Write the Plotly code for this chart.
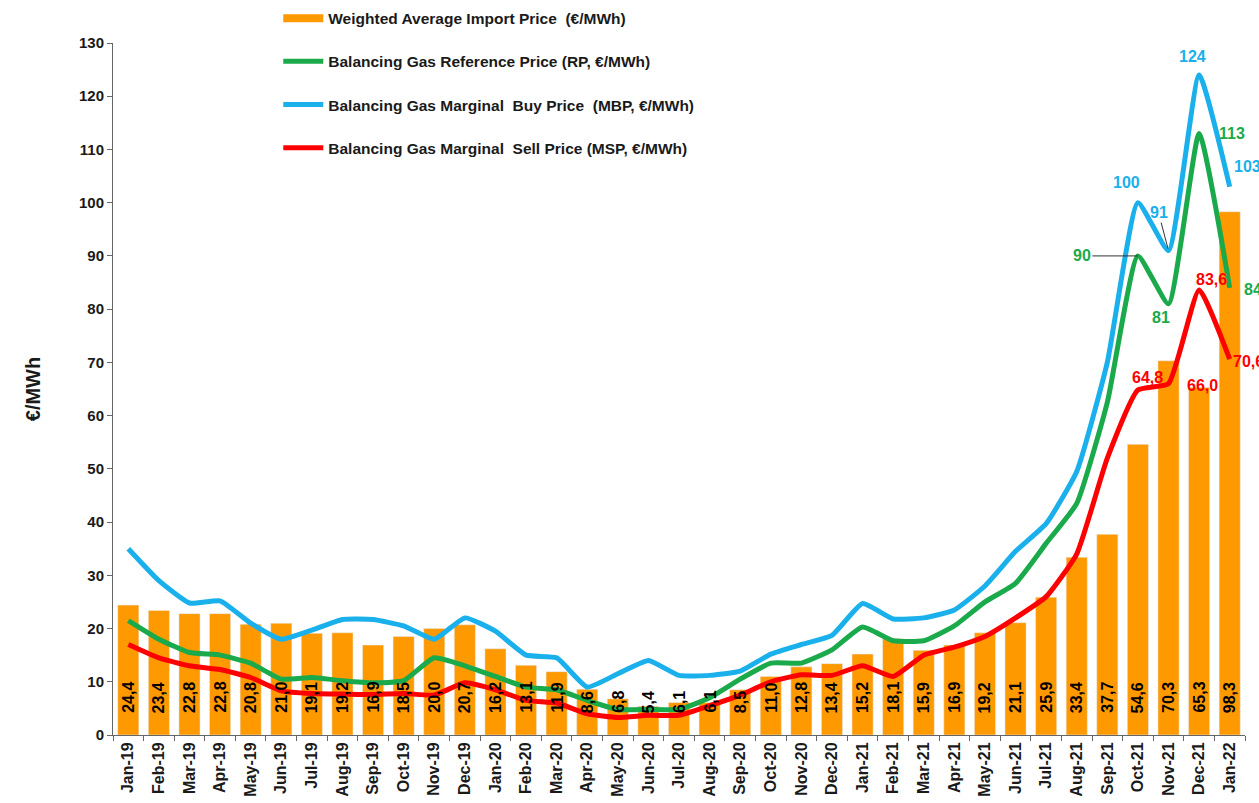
import plotly.graph_objects as go

months = ["Jan-19","Feb-19","Mar-19","Apr-19","May-19","Jun-19","Jul-19","Aug-19","Sep-19","Oct-19","Nov-19","Dec-19",
          "Jan-20","Feb-20","Mar-20","Apr-20","May-20","Jun-20","Jul-20","Aug-20","Sep-20","Oct-20","Nov-20","Dec-20",
          "Jan-21","Feb-21","Mar-21","Apr-21","May-21","Jun-21","Jul-21","Aug-21","Sep-21","Oct-21","Nov-21","Dec-21",
          "Jan-22"]

import_price = [24.4, 23.4, 22.8, 22.8, 20.8, 21.0, 19.1, 19.2, 16.9, 18.5, 20.0, 20.7,
                16.2, 13.1, 11.9, 8.6, 6.8, 5.4, 6.1, 6.1, 8.5, 11.0, 12.8, 13.4,
                15.2, 18.1, 15.9, 16.9, 19.2, 21.1, 25.9, 33.4, 37.7, 54.6, 70.3, 65.3,
                98.3]

rp = [21.5, 18.0, 15.5, 15.0, 13.5, 10.5, 10.8, 10.2, 9.8, 10.2, 14.5, 13.0,
      11.0, 9.0, 8.5, 6.5, 4.8, 4.8, 4.8, 7.0, 10.5, 13.5, 13.5, 16.0,
      20.3, 17.7, 17.7, 20.5, 25.0, 28.5, 36.0, 43.5, 62.5, 90.0, 81.0, 113.0,
      84.0]

mbp = [35.0, 29.0, 24.8, 25.2, 21.0, 18.0, 19.7, 21.7, 21.7, 20.5, 18.0, 22.0,
       19.5, 15.0, 14.5, 9.0, 11.5, 14.0, 11.2, 11.2, 12.0, 15.2, 17.0, 18.7,
       24.7, 21.8, 22.0, 23.5, 28.0, 34.5, 39.7, 49.5, 70.0, 100.0, 91.0, 124.0,
       103.0]

msp = [17.0, 14.5, 13.0, 12.3, 10.8, 8.3, 7.8, 7.7, 7.6, 7.8, 7.5, 9.8,
       8.5, 6.5, 6.0, 4.0, 3.3, 3.7, 3.7, 5.5, 7.5, 10.0, 11.3, 11.2,
       13.0, 11.0, 15.0, 16.5, 18.5, 22.0, 26.0, 34.0, 52.0, 64.8, 66.0, 83.6,
       70.6]

names = ["Weighted Average Import Price  (€/MWh)",
         "Balancing Gas Reference Price (RP, €/MWh)",
         "Balancing Gas Marginal  Buy Price  (MBP, €/MWh)",
         "Balancing Gas Marginal  Sell Price (MSP, €/MWh)"]

ORANGE = "#FF9900"
GREEN = "#1AAA4B"
BLUE = "#1AB0EC"
RED = "#FF0000"
FONT = "Liberation Sans"
DARK = "#1a1a1a"

def fmt(v):
    return f"{v:.1f}".replace(".", ",")

def bfont(size, color=DARK, family=FONT):
    return dict(family=family, size=size, color=color, weight="bold")

fig = go.Figure()

fig.add_trace(go.Bar(x=months, y=import_price, marker_color=ORANGE,
                     showlegend=False, name=names[0]))

# legend proxy for the bar series (wide rectangle swatch)
fig.add_trace(go.Scatter(x=[None], y=[None], mode="lines", name=names[0], legendrank=1,
                         line=dict(color=ORANGE, width=8), legendgroup="a"))

fig.add_trace(go.Scatter(x=months, y=mbp, mode="lines", name=names[2], legendgroup="c", legendrank=3,
                         line=dict(color=BLUE, width=5, shape="spline", smoothing=0.45)))
fig.add_trace(go.Scatter(x=months, y=rp, mode="lines", name=names[1], legendgroup="b", legendrank=2,
                         line=dict(color=GREEN, width=5, shape="spline", smoothing=0.45)))
fig.add_trace(go.Scatter(x=months, y=msp, mode="lines", name=names[3], legendgroup="d", legendrank=4,
                         line=dict(color=RED, width=5, shape="spline", smoothing=0.45)))

# bar value labels (rotated, near the base)
for m, v in zip(months, import_price):
    fig.add_annotation(x=m, y=0, text=fmt(v), showarrow=False, textangle=-90,
                       yanchor="bottom", yshift=20, font=bfont(16, "black"))

def lab(i, series, text, color, xs=0, ys=0, xanchor="center"):
    fig.add_annotation(x=months[i], y=series[i], text=text, showarrow=False,
                       xshift=xs, yshift=ys, xanchor=xanchor, font=bfont(16, color))

# blue labels
lab(33, mbp, "100", BLUE, xs=-11, ys=20)
lab(35, mbp, "124", BLUE, xs=-7, ys=18)
lab(36, mbp, "103", BLUE, xs=2, ys=20, xanchor="left")
fig.add_annotation(x=months[34], y=mbp[34], text="91", showarrow=True, arrowhead=0,
                   arrowwidth=1, arrowcolor="#333", ax=-10, ay=-38, standoff=2,
                   font=bfont(16, BLUE))
# green labels
fig.add_annotation(x=months[33], y=rp[33], text="90", showarrow=True, arrowhead=0,
                   arrowwidth=1, arrowcolor="#333", ax=-56, ay=0, standoff=0,
                   font=bfont(16, GREEN))
lab(34, rp, "81", GREEN, xs=-8, ys=-14)
lab(35, rp, "113", GREEN, xs=33, ys=0)
lab(36, rp, "84", GREEN, xs=12, ys=-2, xanchor="left")
# red labels
lab(33, msp, "64,8", RED, xs=10, ys=13)
lab(34, msp, "66,0", RED, xs=34, ys=-2)
lab(35, msp, "83,6", RED, xs=12, ys=10)
lab(36, msp, "70,6", RED, xs=1, ys=-2, xanchor="left")

fig.update_layout(
    width=1259, height=803,
    margin=dict(l=113, r=14, t=43, b=68, autoexpand=False),
    plot_bgcolor="white", paper_bgcolor="white",
    font=dict(family=FONT, size=14, color=DARK),
    bargap=0.31,
    legend=dict(x=0.146, y=0.998, xanchor="left", yanchor="top", yref="container",
                bgcolor="rgba(0,0,0,0)", tracegroupgap=20, itemwidth=40,
                font=bfont(15.5), traceorder="grouped"),
    xaxis=dict(type="category", range=[-0.5, 36.5], tickangle=-90,
               ticks="outside", tickson="boundaries", ticklen=5, tickcolor="#666",
               showline=True, linecolor="#666", linewidth=1, showgrid=False,
               tickfont=bfont(16)),
    yaxis=dict(range=[0, 130], dtick=10, ticks="outside", ticklen=5, tickcolor="#666",
               showline=True, linecolor="#666", linewidth=1, showgrid=False, zeroline=False,
               tickfont=bfont(15),
               title=dict(text="€/MWh", font=bfont(20), standoff=32)),
)

fig.write_html("out.html", post_script="document.body.style.margin='0';",
               config={"displayModeBar": False})
